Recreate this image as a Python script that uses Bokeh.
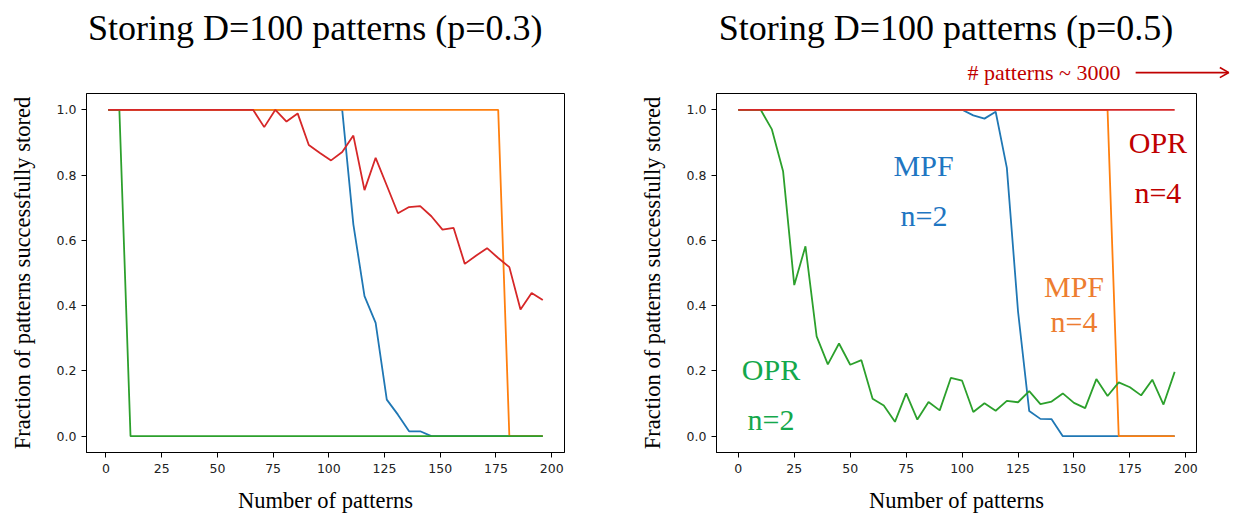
from bokeh.plotting import figure
from bokeh.layouts import row
from bokeh.models import Range1d, FixedTicker, NumeralTickFormatter, Label
from bokeh.embed import file_html
from bokeh.resources import INLINE

# ---------------- data ----------------
x_left = [1, 6, 11, 16, 21, 26, 31, 36, 41, 46, 51, 56, 61, 66, 71, 76, 81, 86, 91, 96,
          101, 106, 111, 116, 121, 126, 131, 136, 141, 146, 151, 156, 161, 166, 171, 176,
          181, 186, 191, 196]
x_right = [0, 5, 10, 15, 20, 25, 30, 35, 40, 45, 50, 55, 60, 65, 70, 75, 80, 85, 90, 95,
           100, 105, 110, 115, 120, 125, 130, 135, 140, 145, 150, 155, 160, 165, 170, 175,
           180, 185, 190, 195]

left_mpf_n2 = [1, 1, 1, 1, 1, 1, 1, 1, 1, 1, 1, 1, 1, 1, 1, 1, 1, 1, 1, 1, 1, 1,
               0.649, 0.429, 0.347, 0.112, 0.066, 0.015, 0.015,
               0, 0, 0, 0, 0, 0, 0, 0, 0, 0, 0]
left_mpf_n4 = [1, 1, 1, 1, 1, 1, 1, 1, 1, 1, 1, 1, 1, 1, 1, 1, 1, 1, 1, 1,
               1, 1, 1, 1, 1, 1, 1, 1, 1, 1, 1, 1, 1, 1, 1, 1, 0, 0, 0, 0]
left_opr_n2 = [1, 1, 0, 0, 0, 0, 0, 0, 0, 0, 0, 0, 0, 0, 0, 0, 0, 0, 0, 0,
               0, 0, 0, 0, 0, 0, 0, 0, 0, 0, 0, 0, 0, 0, 0, 0, 0, 0, 0, 0]
left_opr_n4 = [1, 1, 1, 1, 1, 1, 1, 1, 1, 1, 1, 1, 1, 1,
               0.947, 1.0, 0.964, 0.989, 0.892, 0.868, 0.845, 0.871, 0.921, 0.754,
               0.853, 0.768, 0.683, 0.702, 0.705, 0.674, 0.633, 0.638, 0.528, 0.553,
               0.576, 0.546, 0.518, 0.388, 0.439, 0.417]

right_mpf_n2 = [1, 1, 1, 1, 1, 1, 1, 1, 1, 1, 1, 1, 1, 1, 1, 1, 1, 1, 1, 1, 1,
                0.983, 0.973, 0.994, 0.822, 0.382, 0.077, 0.053, 0.052,
                0, 0, 0, 0, 0, 0, 0, 0, 0, 0, 0]
right_mpf_n4 = [1, 1, 1, 1, 1, 1, 1, 1, 1, 1, 1, 1, 1, 1, 1, 1, 1, 1, 1, 1,
                1, 1, 1, 1, 1, 1, 1, 1, 1, 1, 1, 1, 1, 1, 0, 0, 0, 0, 0, 0]
right_opr_n2 = [1, 1, 1, 0.940, 0.812, 0.463, 0.582, 0.306, 0.220, 0.284,
                0.219, 0.233, 0.115, 0.094, 0.044, 0.131, 0.051, 0.105, 0.079, 0.179,
                0.170, 0.074, 0.101, 0.078, 0.108, 0.104, 0.138, 0.098, 0.106, 0.131,
                0.102, 0.086, 0.175, 0.123, 0.165, 0.150, 0.125, 0.173, 0.097, 0.197]
right_opr_n4 = [1] * 40

x_ticks = [0, 25, 50, 75, 100, 125, 150, 175, 200]
y_ticks = [0.0, 0.2, 0.4, 0.6, 0.8, 1.0]

titles = ["Storing D=100 patterns (p=0.3)", "Storing D=100 patterns (p=0.5)"]

C_BLUE, C_ORANGE, C_GREEN, C_RED = "#1f77b4", "#ff7f0e", "#2ca02c", "#d62728"
SERIF = "Liberation Serif"


def make_fig(width, border_right, xr, title, title_x):
    p = figure(width=width, height=519, x_range=xr, y_range=Range1d(-0.05, 1.05),
               output_backend="svg", toolbar_location=None,
               min_border_left=86, min_border_right=border_right,
               min_border_top=93, min_border_bottom=67)
    p.background_fill_color = "white"
    p.border_fill_color = "white"
    p.outline_line_color = "black"
    p.outline_line_alpha = 1.0
    p.outline_line_width = 1
    p.xgrid.visible = False
    p.ygrid.visible = False
    for ax in (p.xaxis[0], p.yaxis[0]):
        ax.axis_line_color = "black"
        ax.major_tick_line_color = "black"
        ax.minor_tick_line_color = None
        ax.major_tick_in = 0
        ax.major_tick_out = 5
        ax.major_label_text_font = "DejaVu Sans"
        ax.major_label_text_font_size = "12.5px"
        ax.major_label_text_color = "#222222"
        ax.axis_label_text_font = SERIF
        ax.axis_label_text_font_size = "22.5px"
        ax.axis_label_text_font_style = "normal"
        ax.axis_label_text_color = "black"
    p.xaxis.ticker = FixedTicker(ticks=x_ticks)
    p.yaxis.ticker = FixedTicker(ticks=y_ticks)
    p.yaxis.formatter = NumeralTickFormatter(format="0.0")
    p.xaxis.major_label_standoff = 6
    p.yaxis.major_label_standoff = 5
    p.xaxis.axis_label = "Number of patterns"
    p.yaxis.axis_label = "Fraction of patterns successfully stored"
    p.xaxis.axis_label_standoff = 12
    p.yaxis.axis_label_standoff = 19
    # title drawn in the top side panel (not clipped by the frame)
    p.add_layout(Label(x=title_x, y=1.252, text=title, text_align="center",
                       text_baseline="alphabetic", text_font=SERIF,
                       text_font_size="36px", text_color="black"), "above")
    return p


p1 = make_fig(630, 66, Range1d(-8.75, 205.75), titles[0], 93.9)
p2 = make_fig(603, 37, Range1d(-9.75, 204.75), titles[1], 92.8)

for p, xs, b, o, g, r in ((p1, x_left, left_mpf_n2, left_mpf_n4, left_opr_n2, left_opr_n4),
                          (p2, x_right, right_mpf_n2, right_mpf_n4, right_opr_n2, right_opr_n4)):
    p.line(xs, b, line_color=C_BLUE, line_width=1.8)
    p.line(xs, o, line_color=C_ORANGE, line_width=1.8)
    p.line(xs, g, line_color=C_GREEN, line_width=1.8)
    p.line(xs, r, line_color=C_RED, line_width=1.8)

# annotations on the right panel
T_BLUE, T_RED, T_ORANGE, T_GREEN = "#1f76c2", "#c00000", "#ed7d31", "#14a84b"
annots = [
    ("MPF", 82.8, 0.830, T_BLUE), ("n=2", 83.0, 0.677, T_BLUE),
    ("OPR", 187.5, 0.900, T_RED), ("n=4", 187.5, 0.747, T_RED),
    ("MPF", 150.0, 0.460, T_ORANGE), ("n=4", 150.0, 0.350, T_ORANGE),
    ("OPR", 14.6, 0.204, T_GREEN), ("n=2", 14.6, 0.052, T_GREEN),
]
for txt, ax_, ay_, col in annots:
    p2.add_layout(Label(x=ax_, y=ay_, text=txt, text_align="center", text_baseline="middle",
                        text_font=SERIF, text_font_size="30px", text_color=col))

# "# patterns ~ 3000 ---->" note above the right frame
p2.add_layout(Label(x=136.6, y=1.114, text="# patterns ~ 3000",
                    text_align="center", text_baseline="middle", text_font=SERIF,
                    text_font_size="22px", text_color=T_RED), "above")
# arrow shaft and head built from thin filled label boxes
p2.add_layout(Label(x=198.2, y=1.1142, text=" ", text_align="center", text_baseline="middle",
                    text_font_size="1.5px", text_color=T_RED, padding=(46, 0),
                    background_fill_color=T_RED), "above")
p2.add_layout(Label(x=217.2, y=1.1219, angle=-0.5236, text=" ", text_align="center",
                    text_baseline="middle", text_font_size="1.5px", text_color=T_RED,
                    padding=(5, 0), background_fill_color=T_RED), "above")
p2.add_layout(Label(x=217.2, y=1.1066, angle=0.5236, text=" ", text_align="center",
                    text_baseline="middle", text_font_size="1.5px", text_color=T_RED,
                    padding=(5, 0), background_fill_color=T_RED), "above")

layout = row(p1, p2)
open("out.html", "w").write(file_html(layout, INLINE))
